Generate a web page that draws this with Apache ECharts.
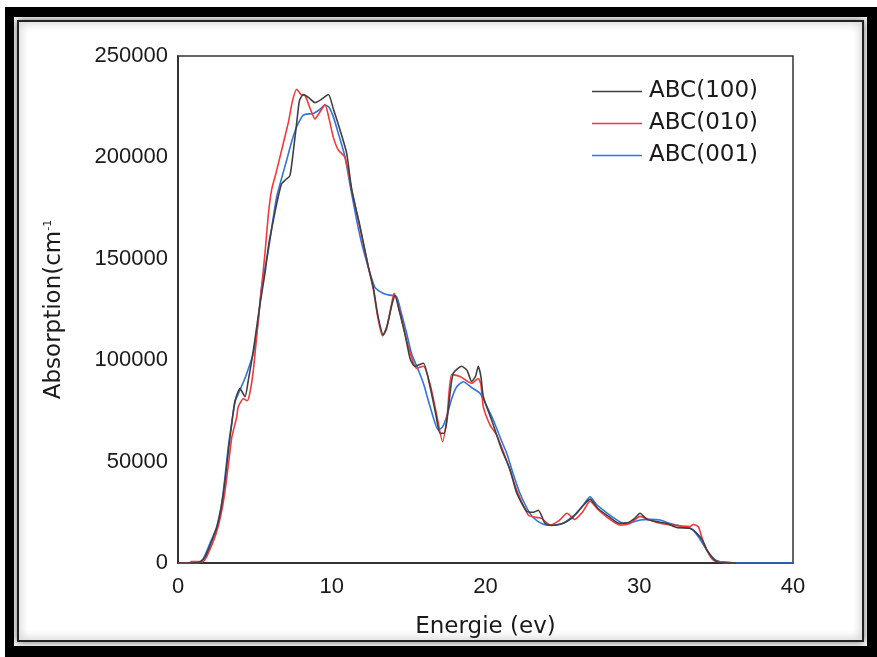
<!DOCTYPE html>
<html>

<head>
  <meta charset="utf-8" />
  <script src="https://cdn.jsdelivr.net/npm/echarts@6/dist/echarts.min.js"></script>
  <style>
    html, body { margin: 0; padding: 0; background: #fff; }
    #chart { width: 877px; height: 657px; }
  </style>
</head>

<body>
  <div id="chart"></div>
  <script type="text/javascript">
    // energies (eV) and absorption values
    const e100 = [0, 1.0, 1.5, 1.8, 2.1, 2.5, 2.8, 3.05, 3.3, 3.5, 3.71, 4.03, 4.36, 4.57, 4.8, 5.0, 5.3, 5.66, 5.9, 6.2, 6.5, 6.74, 7.0, 7.28, 7.5, 7.72, 7.9, 8.15, 8.5, 8.91, 9.3, 9.78, 10.1, 10.54, 10.97, 11.3, 11.84, 12.38, 12.7, 13.0, 13.35, 13.6, 13.9, 14.11, 14.4, 14.76, 15.09, 15.4, 15.96, 16.39, 16.75, 17.04, 17.3, 17.47, 17.7, 17.9, 18.44, 18.8, 19.1, 19.35, 19.53, 19.7, 19.86, 20.4, 21.05, 21.6, 22.03, 22.68, 23.1, 23.44, 23.87, 24.3, 25.0, 25.6, 26.2, 26.8, 27.3, 28.0, 28.7, 29.3, 29.7, 30.05, 30.5, 31.13, 31.8, 32.43, 33.3, 33.7, 34.1, 34.4, 34.7, 35.1, 35.5, 36.3];
    const a100 = [0, 0, 800, 3500, 9000, 17000, 27000, 40000, 57000, 69000, 80000, 86000, 82000, 90000, 100000, 110000, 126000, 143000, 157000, 169000, 180000, 187000, 189000, 191000, 203000, 217000, 228000, 231000, 229500, 227000, 228500, 231000, 224000, 213500, 202000, 184000, 166000, 146000, 136000, 122000, 112500, 117000, 127000, 132000, 124000, 113000, 101000, 97000, 98500, 87000, 74000, 64000, 64000, 69000, 84000, 93500, 97000, 95000, 89500, 92000, 97000, 92000, 82000, 70500, 56000, 46000, 34500, 25500, 25000, 26000, 19600, 18500, 19500, 22000, 27000, 31500, 27000, 23000, 19600, 20000, 22000, 24500, 21500, 20400, 19500, 17500, 17100, 15000, 11300, 6500, 3100, 500, 0, 0];

    const e010 = [0, 0.8, 0.85, 1.6, 1.75, 2.1, 2.5, 2.8, 3.05, 3.3, 3.5, 3.82, 3.92, 4.25, 4.5, 4.68, 4.9, 5.22, 5.45, 5.66, 5.88, 6.09, 6.4, 6.85, 7.2, 7.45, 7.72, 8.0, 8.26, 8.6, 8.91, 9.2, 9.56, 9.8, 10.1, 10.43, 10.86, 11.3, 11.84, 12.38, 12.7, 13.0, 13.3, 13.55, 13.85, 14.05, 14.4, 14.76, 15.09, 15.5, 15.96, 16.4, 16.8, 17.21, 17.5, 17.8, 18.34, 19.1, 19.53, 19.7, 19.86, 20.3, 20.73, 21.4, 22.03, 22.8, 23.3, 23.65, 24.2, 24.8, 25.3, 25.8, 26.3, 26.8, 27.3, 28.0, 28.75, 29.4, 30.05, 30.6, 31.13, 32.0, 32.8, 33.3, 33.52, 33.84, 34.1, 34.39, 34.8, 35.2, 35.7, 36.1];
    const a010 = [0, 0, 700, 700, 1500, 7000, 15000, 24000, 35000, 50000, 62000, 72000, 77000, 81000, 80000, 84000, 95000, 119800, 137000, 153000, 172000, 184000, 193000, 207000, 218000, 228000, 233600, 231000, 230500, 224000, 219000, 222000, 226000, 220000, 210000, 203600, 200000, 184000, 165000, 146000, 135000, 121000, 112000, 115000, 126000, 133000, 125000, 113000, 104000, 96000, 97000, 88000, 74000, 59800, 72000, 93000, 92000, 88600, 91000, 88000, 77000, 68000, 63000, 50000, 36000, 23500, 22500, 22000, 18700, 21000, 24500, 21500, 25000, 30500, 26500, 22000, 18700, 19500, 23000, 21500, 20000, 18800, 18200, 18000, 19000, 17900, 12000, 6400, 1500, 600, 500, 0];

    const e001 = [0, 1.3, 1.65, 2.08, 2.52, 2.84, 3.06, 3.27, 3.49, 3.71, 4.03, 4.4, 4.9, 5.2, 5.44, 5.88, 6.15, 6.42, 6.75, 7.07, 7.4, 7.72, 8.15, 8.8, 9.2, 9.56, 9.8, 10.1, 10.5, 10.86, 11.2, 11.62, 12.0, 12.49, 12.8, 13.14, 13.5, 13.79, 14.22, 14.5, 14.87, 15.2, 15.63, 15.96, 16.4, 16.93, 17.2, 17.47, 17.8, 18.13, 18.56, 19.1, 19.64, 20.1, 20.51, 21.0, 21.38, 21.8, 22.24, 22.89, 23.4, 23.98, 24.6, 25.06, 25.5, 25.93, 26.4, 26.8, 27.2, 27.66, 28.3, 28.96, 29.5, 30.05, 30.7, 31.35, 32.0, 32.43, 33.0, 33.3, 33.6, 33.84, 34.39, 34.93, 35.4, 35.69, 40];
    const a001 = [0, 0, 2300, 9700, 17900, 29400, 42600, 57300, 68900, 79500, 85300, 92000, 103400, 118000, 136300, 154300, 168000, 180600, 190000, 198700, 208000, 215100, 220900, 221700, 223500, 225800, 225000, 220100, 210000, 200300, 186000, 169100, 156000, 142900, 136000, 133800, 132500, 132100, 131300, 124000, 113300, 103000, 95200, 88600, 77000, 65600, 67000, 72100, 81000, 86900, 89400, 86500, 83700, 77000, 70500, 61000, 54100, 44000, 34400, 24500, 20500, 18700, 18800, 19600, 22000, 24500, 29000, 32700, 29000, 26100, 22500, 19600, 20000, 21200, 21500, 21200, 19500, 18700, 17500, 17100, 15500, 13000, 6400, 1500, 400, 0, 0];

    const names = ['ABC(100)', 'ABC(010)', 'ABC(001)'];
    const colors = ['#404040', '#f03a3a', '#2f74e6'];
    const xTicks = [0, 40, 10];       // min, max, interval
    const yTicks = [0, 250000, 50000];

    const zip = (xs, ys) => xs.map((x, i) => [x, ys[i]]);
    const seriesData = [zip(e100, a100), zip(e010, a010), zip(e001, a001)];

    const chart = echarts.init(document.getElementById("chart"));
    const tick = { fontFamily: 'Liberation Sans', fontSize: 22, color: '#1a1a1a' };
    const nameFont = { fontFamily: 'DejaVu Sans', fontSize: 23, color: '#1a1a1a' };

    var option = {
      animation: false,
      backgroundColor: '#fff',
      graphic: [
        { type: 'rect', z: -10, shape: { x: 5, y: 7, width: 872, height: 650 }, style: { fill: '#000' } },
        { type: 'rect', z: -9, shape: { x: 14, y: 17, width: 853, height: 629 }, style: { fill: '#fff' } },
        {
          type: 'rect', z: -8, shape: { x: 18, y: 21, width: 845, height: 620 },
          style: { fill: '#fff', stroke: '#222', lineWidth: 2, shadowBlur: 8, shadowColor: 'rgba(0,0,0,0.55)' }
        }
      ],
      grid: {
        left: 178, right: 84, top: 56, bottom: 94,
        show: true, borderColor: '#333', borderWidth: 1.5
      },
      legend: {
        data: names,
        left: 592,
        top: 80,
        orient: 'vertical',
        padding: 0,
        icon: 'rect',
        itemWidth: 50,
        itemHeight: 1.6,
        itemGap: 9,
        textStyle: Object.assign({ lineHeight: 23, padding: [0, 0, 0, 2] }, nameFont)
      },
      xAxis: {
        type: 'value',
        min: xTicks[0], max: xTicks[1], interval: xTicks[2],
        name: 'Energie (ev)',
        nameLocation: 'middle',
        nameGap: 53,
        nameTextStyle: nameFont,
        axisLine: { show: true, lineStyle: { color: '#222', width: 1.5 } },
        axisTick: { show: false },
        splitLine: { show: false },
        axisLabel: Object.assign({ margin: 13 }, tick)
      },
      yAxis: {
        type: 'value',
        min: yTicks[0], max: yTicks[1], interval: yTicks[2],
        name: '{a|Absorption(cm}{s|-1}',
        nameLocation: 'middle',
        nameGap: 112,
        nameTextStyle: {
          rich: {
            a: nameFont,
            s: { fontFamily: 'DejaVu Sans', fontSize: 11, color: '#1a1a1a', verticalAlign: 'top', padding: [0, 0, 12, 0] }
          }
        },
        axisLine: { show: true, lineStyle: { color: '#222', width: 1.5 } },
        axisTick: { show: false },
        splitLine: { show: false },
        axisLabel: Object.assign({ margin: 10, formatter: v => String(v) }, tick)
      },
      series: names.map((n, i) => ({
        name: n,
        type: 'line',
        data: seriesData[i],
        symbol: 'none',
        smooth: 0.2,
        color: colors[i],
        lineStyle: { width: 1.6, color: colors[i] },
        z: 3 - i
      }))
    };

    chart.setOption(option);

    window.onresize = () => {
      chart?.resize();
    };
  </script>
</body>

</html>
